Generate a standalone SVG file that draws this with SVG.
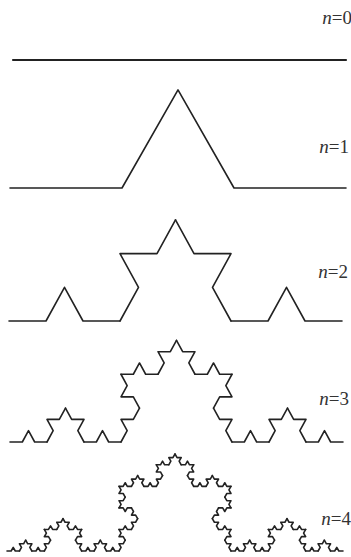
<svg xmlns="http://www.w3.org/2000/svg" xmlns:xlink="http://www.w3.org/1999/xlink" width="351" height="557" viewBox="0 0 351 557">
<style>
.lbl{font-family:"Liberation Serif","DejaVu Serif","Times New Roman",serif;font-size:19px;fill:#333;text-anchor:end}
.it{font-style:italic}
.k{fill:none;stroke:#222;stroke-width:1.6;stroke-linejoin:round;stroke-linecap:round}
.seg{vector-effect:non-scaling-stroke}
</style>
<defs>
<path id="k1" class="seg" d="M0 0L0.333333 0L0.5 -0.288675L0.666667 0L1 0"/>
<g id="k2">
<use xlink:href="#k1" href="#k1" transform="scale(0.333333)"/>
<use xlink:href="#k1" href="#k1" transform="translate(0.333333 0) rotate(-60) scale(0.333333)"/>
<use xlink:href="#k1" href="#k1" transform="translate(0.5 -0.288675) rotate(60) scale(0.333333)"/>
<use xlink:href="#k1" href="#k1" transform="translate(0.666667 0) scale(0.333333)"/>
</g>
<g id="k3">
<use xlink:href="#k2" href="#k2" transform="scale(0.333333)"/>
<use xlink:href="#k2" href="#k2" transform="translate(0.333333 0) rotate(-60) scale(0.333333)"/>
<use xlink:href="#k2" href="#k2" transform="translate(0.5 -0.288675) rotate(60) scale(0.333333)"/>
<use xlink:href="#k2" href="#k2" transform="translate(0.666667 0) scale(0.333333)"/>
</g>
<g id="k4">
<use xlink:href="#k3" href="#k3" transform="scale(0.333333)"/>
<use xlink:href="#k3" href="#k3" transform="translate(0.333333 0) rotate(-60) scale(0.333333)"/>
<use xlink:href="#k3" href="#k3" transform="translate(0.5 -0.288675) rotate(60) scale(0.333333)"/>
<use xlink:href="#k3" href="#k3" transform="translate(0.666667 0) scale(0.333333)"/>
</g>
</defs>
<rect width="351" height="557" fill="#fff"/>
<g id="curve0"><line class="k" x1="13" y1="60" x2="346" y2="60" style="stroke-width:2.2"/></g>
<g id="curve1" class="k"><use xlink:href="#k1" href="#k1" transform="translate(10 188) scale(336 340)"/></g>
<g id="curve2" class="k"><use xlink:href="#k2" href="#k2" transform="translate(9 321) scale(333 350)"/></g>
<g id="curve3" class="k"><use xlink:href="#k3" href="#k3" transform="translate(10 442) scale(333 352)"/></g>
<g id="curve4" class="k"><use xlink:href="#k4" href="#k4" transform="translate(7 551) scale(336 336)"/></g>
<g id="labels">
<text class="lbl" x="352" y="24"><tspan class="it">n</tspan>=0</text>
<text class="lbl" x="349" y="153"><tspan class="it">n</tspan>=1</text>
<text class="lbl" x="348" y="278"><tspan class="it">n</tspan>=2</text>
<text class="lbl" x="349" y="405"><tspan class="it">n</tspan>=3</text>
<text class="lbl" x="351" y="525"><tspan class="it">n</tspan>=4</text>
</g>
</svg>
